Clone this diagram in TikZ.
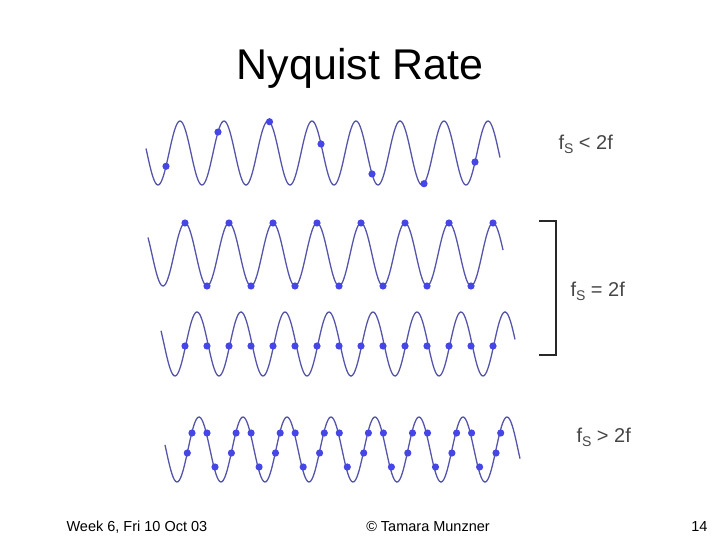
\documentclass[tikz,border=0pt]{standalone}
\usepackage{fontspec}
\setmainfont{Liberation Sans}
\begin{document}
\begin{tikzpicture}[x=1pt,y=-1pt,
  wave/.style={draw={rgb,255:red,85;green,85;blue,170},line width=1.3pt,smooth},
  dot/.style={fill={rgb,255:red,70;green,70;blue,230}},
  lbl/.style={font=\fontsize{20}{24}\selectfont,text={rgb,255:red,70;green,70;blue,70}}]
\useasboundingbox (0,0) rectangle (720,540);
\node (title) at (360,68) {\fontsize{43}{48}\selectfont Nyquist Rate};
% wave 1
\draw[wave] plot[domain=146:500,samples=300] (\x,{153-32*cos(8.1818*(\x-180))});
\foreach \px in {166,218,269.5,321,372,424,475}
  \fill[dot] (\px,{153-32*cos(8.1818*(\px-180))}) circle (3.6);
% wave 2
\draw[wave] plot[domain=148:503,samples=300] (\x,{254.5-31.5*cos(8.1818*(\x-185))});
\foreach \k in {0,...,7} \fill[dot] ({185+44*\k},223) circle (3.6);
\foreach \k in {0,...,6} \fill[dot] ({207+44*\k},286) circle (3.6);
% wave 3
\draw[wave] plot[domain=161:515,samples=300] (\x,{344-32*cos(8.1818*(\x-197))});
\foreach \k in {0,...,14} \fill[dot] ({185+22*\k},346) circle (3.6);
% wave 4
\draw[wave] plot[domain=165:520,samples=300] (\x,{449.5-32.5*cos(8.1818*(\x-199))});
\foreach \k in {0,...,7} {
  \fill[dot] ({199+44.1*\k-11.7},453) circle (3.6);
  \fill[dot] ({199+44.1*\k-7},433) circle (3.6);
}
\foreach \k in {0,...,6} {
  \fill[dot] ({199+44.1*\k+8},433) circle (3.6);
  \fill[dot] ({199+44.1*\k+16},467) circle (3.6);
}
% labels
\node[lbl,anchor=west] (l1) at (555,144) {f\raisebox{-0.35ex}{\fontsize{14}{16}\selectfont S} < 2f};
\node[lbl,anchor=west] (l2) at (567,291) {f\raisebox{-0.35ex}{\fontsize{14}{16}\selectfont S} = 2f};
\node[lbl,anchor=west] (l3) at (573,437) {f\raisebox{-0.35ex}{\fontsize{14}{16}\selectfont S} > 2f};
\draw[line width=1.3pt,draw={rgb,255:red,40;green,40;blue,40}] (539,221) -- (556,221) -- (556,355) -- (539,355);
% footer
\node[anchor=west,font=\fontsize{14.5}{16}\selectfont] (f1) at (63,527) {Week 6, Fri 10 Oct 03};
\node[font=\fontsize{14.5}{16}\selectfont] (f2) at (428,527) {© Tamara Munzner};
\node[anchor=east,font=\fontsize{14.5}{16}\selectfont] (f3) at (711,527) {14};
\end{tikzpicture}
\end{document}
